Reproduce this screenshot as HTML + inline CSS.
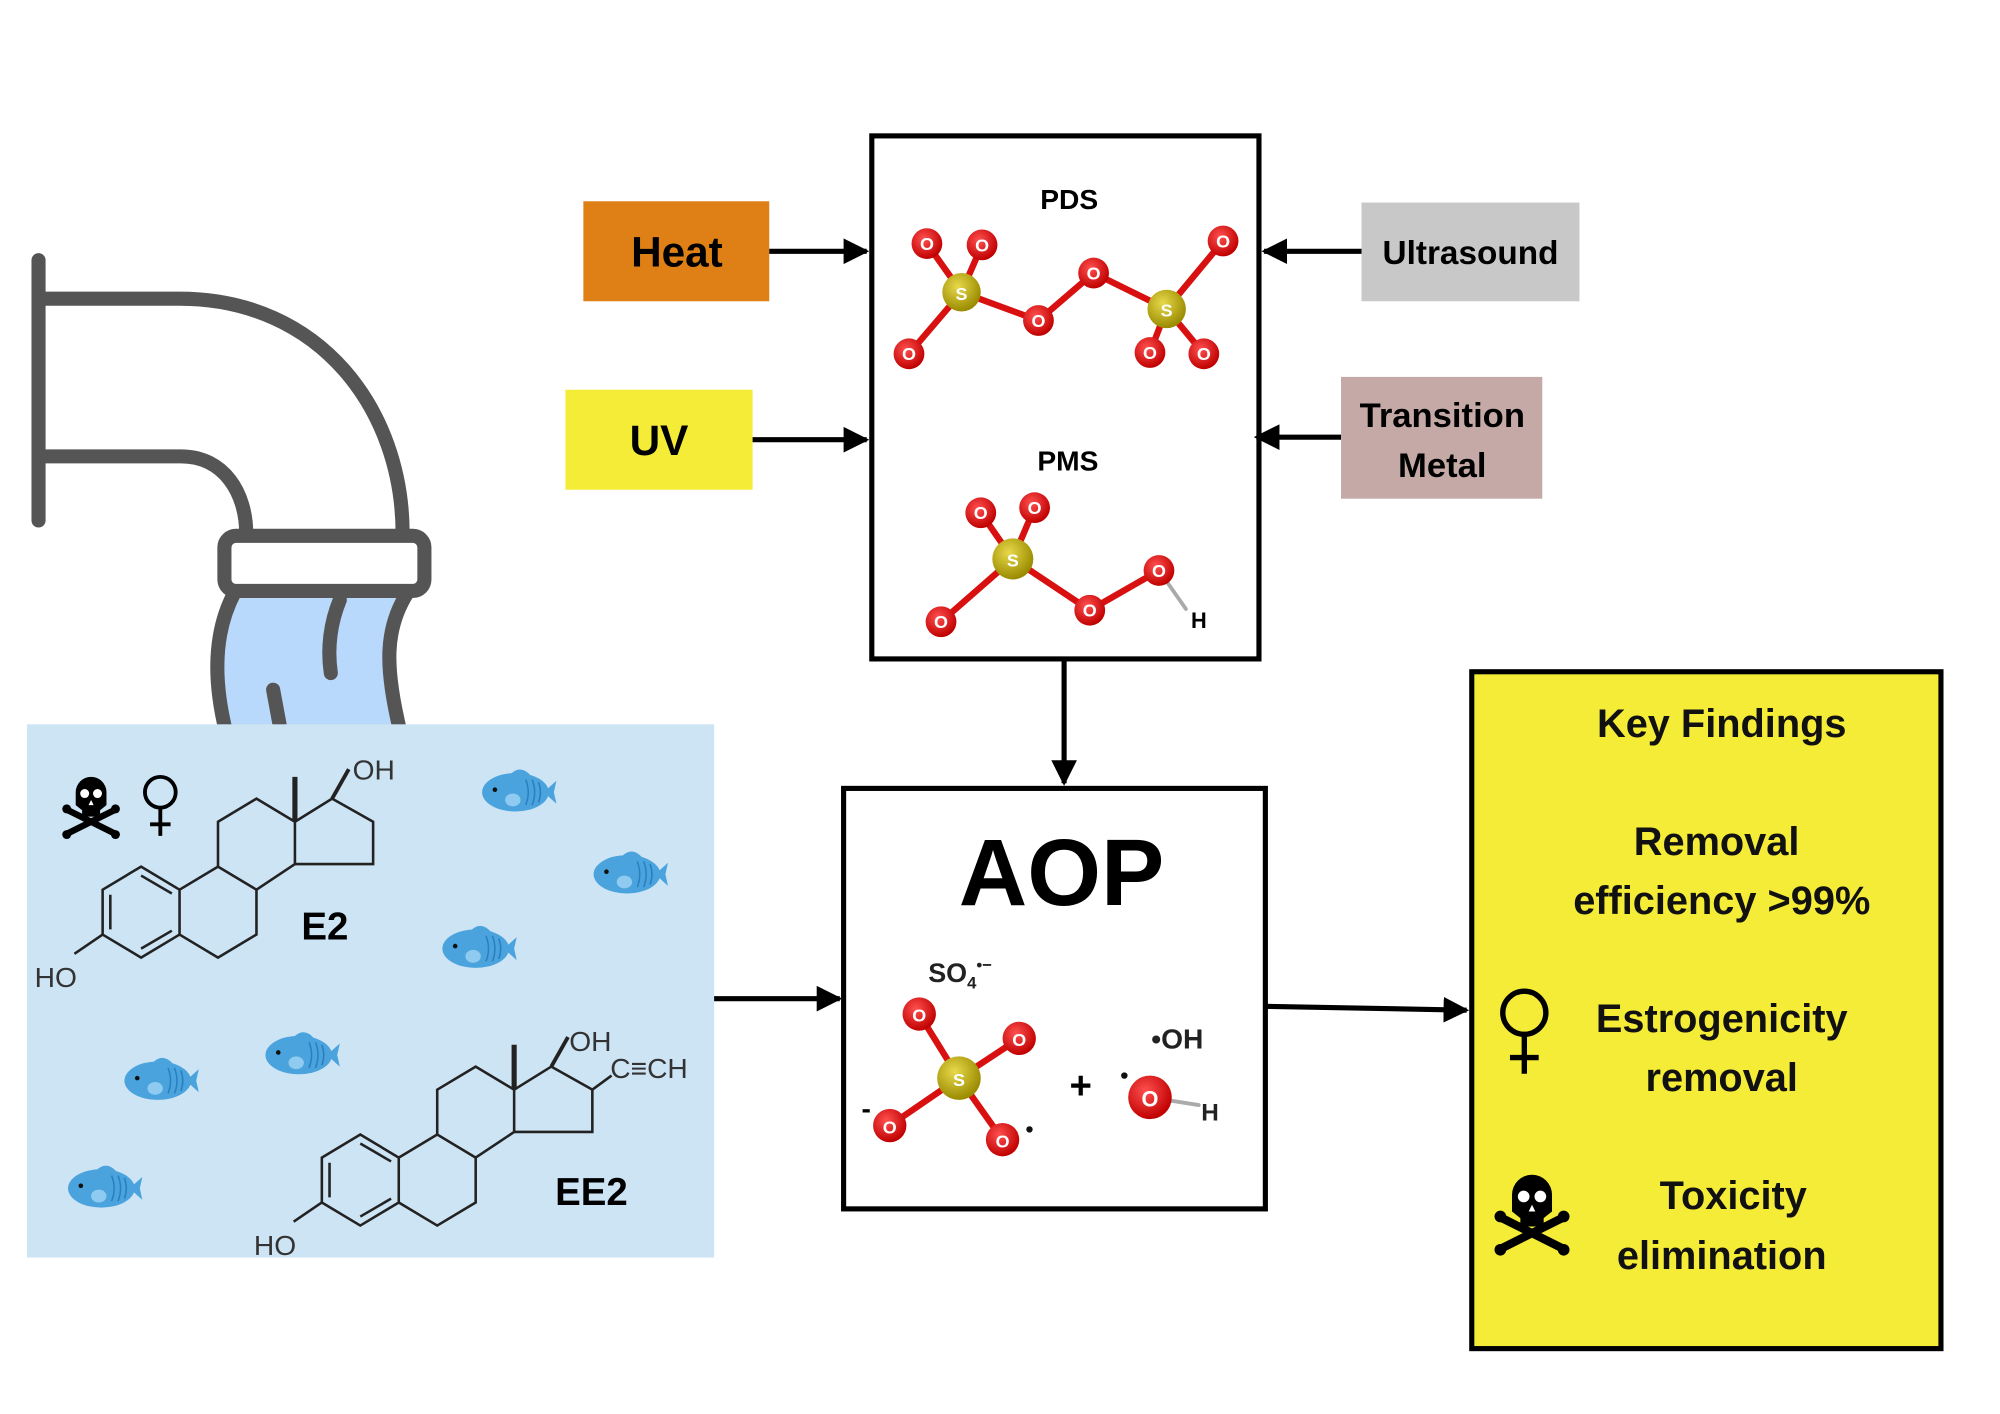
<!DOCTYPE html>
<html><head><meta charset="utf-8"><style>
html,body{margin:0;padding:0;background:#fff;width:2000px;height:1414px;overflow:hidden}
svg{display:block}
text{font-family:"Liberation Sans","DejaVu Sans",sans-serif}
</style></head><body>
<svg width="2000" height="1414" viewBox="0 0 1560 1103" xmlns="http://www.w3.org/2000/svg">
<defs>
<marker id="ah" markerWidth="5" markerHeight="5" refX="4.5" refY="2.5" orient="auto" markerUnits="strokeWidth"><path d="M0,0 L5,2.5 L0,5 Z" fill="#000"/></marker>
<radialGradient id="gO" cx="40%" cy="35%" r="65%"><stop offset="0" stop-color="#ff5050"/><stop offset="1" stop-color="#c00000"/></radialGradient>
<radialGradient id="gS" cx="40%" cy="35%" r="65%"><stop offset="0" stop-color="#e8d84a"/><stop offset="1" stop-color="#9a8a00"/></radialGradient>
<g id="fish">
<path d="M22,0 L32,-9 L30,0 L32,9 Z" fill="#4aa3dc"/>
<ellipse cx="0" cy="0" rx="26" ry="15" fill="#4aa3dc"/>
<path d="M-4,-14 Q4,-22 12,-13" fill="#4aa3dc"/>
<path d="M8,-10 Q12,0 8,10 M13,-10 Q17,0 13,10 M18,-8 Q21,0 18,8" stroke="#2a7fc0" stroke-width="1.2" fill="none"/>
<ellipse cx="-2" cy="6" rx="6" ry="5" fill="#8fcaf0"/>
<circle cx="-16" cy="-2" r="1.8" fill="#111"/>
</g>
<g id="skull">
<g stroke="#000" stroke-width="5" stroke-linecap="round"><path d="M-18,4 L18,22 M18,4 L-18,22"/></g>
<g fill="#000"><circle cx="-19" cy="3" r="3.5"/><circle cx="19" cy="3" r="3.5"/><circle cx="-19" cy="23" r="3.5"/><circle cx="19" cy="23" r="3.5"/></g>
<path d="M-12,-10 A12,12 0 1 1 12,-10 L12,0 L7,4 L7,9 L-7,9 L-7,4 L-12,0 Z" fill="#000"/>
<circle cx="-5" cy="-9" r="3.5" fill="#fff"/><circle cx="5" cy="-9" r="3.5" fill="#fff"/>
<path d="M0,-4 L-2,0 L2,0 Z" fill="#fff"/>
</g>
<g id="venus" fill="none" stroke="#000" stroke-width="3">
<circle cx="0" cy="0" r="12"/><path d="M0,12 V34 M-8,25 H8"/>
</g>
<g id="ster" fill="none" stroke="#222" stroke-width="2">
<path d="M80,694 L110,676 L140,694 L140,729 L110,747 L80,729 Z"/>
<path d="M86,698 L86,725 M110,683 L134,697 M110,740 L134,726"/>
<path d="M140,694 L170,676 L200,694 L200,729 L170,747 L140,729"/>
<path d="M170,676 L170,641 L200,623 L230,641 L230,674 L200,694"/>
<path d="M230,641 L259,623 L291,641 L291,674 L230,674"/>
<path d="M230,641 L230,606" stroke-width="4"/>
<path d="M80,729 L58,744"/>
<text x="27" y="770" font-family="Liberation Serif,serif" font-size="22" fill="#333" stroke="none">HO</text>
</g>
</defs>

<!-- pipe -->
<g fill="none" stroke="#555" stroke-width="11" stroke-linecap="round">
<path d="M30,203 V406"/>
<path d="M30,233 H140 C250,233 314,320 314,416"/>
<path d="M30,356 H141 C175,356 192,385 192,416"/>
</g>
<path d="M183,462 C168,490 165,525 176,570 L312,570 C300,525 300,490 318,462 Z" fill="#b8d9fb"/>
<g fill="none" stroke="#555" stroke-width="11" stroke-linecap="round">
<path d="M183,462 C168,490 165,525 176,570"/>
<path d="M318,462 C300,490 300,520 312,570"/>
<path d="M265,468 C258,485 255,505 258,525"/>
<path d="M213,538 L218,565"/>
</g>
<rect x="175" y="418" width="156" height="43" rx="9" fill="#fff" stroke="#555" stroke-width="11"/>

<!-- blue panel -->
<rect x="21" y="565" width="536" height="416" fill="#cde4f5"/>
<use href="#ster"/>
<text x="275" y="608" font-family="Liberation Serif,serif" font-size="22" fill="#333">OH</text>
<path d="M259,623 L272,600" stroke="#222" stroke-width="3"/>
<text x="235" y="733" font-size="30" font-weight="bold">E2</text>
<g transform="translate(171,209)"><use href="#ster"/>
<path d="M259,623 L272,600" stroke="#222" stroke-width="3"/>
<path d="M291,641 L306,630" stroke="#222" stroke-width="2"/>
<text x="273" y="611" font-family="Liberation Serif,serif" font-size="22" fill="#333">OH</text>
<text x="305" y="632" font-family="Liberation Serif,serif" font-size="22" fill="#333">C≡CH</text>
</g>
<text x="433" y="940" font-size="30" font-weight="bold">EE2</text>
<use href="#skull" x="71" y="628"/>
<use href="#venus" x="125" y="618"/>
<use href="#fish" x="402" y="618"/>
<use href="#fish" x="489" y="682"/>
<use href="#fish" x="371" y="740"/>
<use href="#fish" x="233" y="823"/>
<use href="#fish" x="123" y="843"/>
<use href="#fish" x="79" y="927"/>

<!-- left boxes -->
<rect x="455" y="157" width="145" height="78" fill="#de8015"/>
<text x="528" y="208" font-size="33" font-weight="bold" text-anchor="middle">Heat</text>
<rect x="441" y="304" width="146" height="78" fill="#f5ec38"/>
<text x="514" y="355" font-size="33" font-weight="bold" text-anchor="middle">UV</text>
<!-- right boxes -->
<rect x="1062" y="158" width="170" height="77" fill="#c8c8c8"/>
<text x="1147" y="206" font-size="26" font-weight="bold" text-anchor="middle">Ultrasound</text>
<rect x="1046" y="294" width="157" height="95" fill="#c4a9a6"/>
<text x="1125" y="333" font-size="27" font-weight="bold" text-anchor="middle">Transition</text>
<text x="1125" y="372" font-size="27" font-weight="bold" text-anchor="middle">Metal</text>

<!-- arrows -->
<g stroke="#000" stroke-width="4" fill="none" marker-end="url(#ah)">
<path d="M600,196 H676"/>
<path d="M587,343 H676"/>
<path d="M1062,196 H986"/>
<path d="M1046,341 H980"/>
<path d="M830,515 V611"/>
<path d="M557,779 H655"/>
<path d="M987,785 L1144,788"/>
</g>

<!-- PDS/PMS box -->
<rect x="680" y="106" width="302" height="408" fill="none" stroke="#000" stroke-width="4"/>
<text x="834" y="163" font-size="22" font-weight="bold" text-anchor="middle">PDS</text>
<text x="833" y="367" font-size="22" font-weight="bold" text-anchor="middle">PMS</text>
<g stroke-width="5" stroke-linecap="round" fill="none">
<path d="M723,190 L750,228 M766,191 L750,228 M750,228 L709,276 M750,228 L810,250 L853,213 L910,241 M910,241 L954,188 M910,241 L897,275 M910,241 L939,276" stroke="#d81010"/>
<path d="M765,400 L790,436 M807,396 L790,436 M790,436 L734,485 M790,436 L850,476 L904,445" stroke="#d81010"/>
<path d="M904,445 L925,475" stroke="#aaa" stroke-width="3"/>
<path d="M748,841 L717,791 M748,841 L795,810 M748,841 L694,878 M748,841 L782,889" stroke="#d81010"/>
<path d="M897,856 L935,862" stroke="#aaa" stroke-width="3"/>
</g>
<g fill="url(#gO)">
<circle cx="723" cy="190" r="12"/><circle cx="766" cy="191" r="12"/><circle cx="709" cy="276" r="12"/>
<circle cx="810" cy="250" r="12"/><circle cx="853" cy="213" r="12"/><circle cx="954" cy="188" r="12"/>
<circle cx="897" cy="275" r="12"/><circle cx="939" cy="276" r="12"/>
<circle cx="765" cy="400" r="12"/><circle cx="807" cy="396" r="12"/><circle cx="734" cy="485" r="12"/>
<circle cx="850" cy="476" r="12"/><circle cx="904" cy="445" r="12"/>
<circle cx="717" cy="791" r="13"/><circle cx="795" cy="810" r="13"/><circle cx="694" cy="878" r="13"/><circle cx="782" cy="889" r="13"/>
<circle cx="897" cy="856" r="17"/>
</g>
<g fill="url(#gS)">
<circle cx="750" cy="228" r="15"/><circle cx="910" cy="241" r="15"/><circle cx="790" cy="436" r="16"/><circle cx="748" cy="841" r="17"/>
</g>
<g font-size="14" font-weight="bold" fill="#fff" text-anchor="middle">
<text x="723" y="195">O</text><text x="766" y="196">O</text><text x="709" y="281">O</text><text x="810" y="255">O</text><text x="853" y="218">O</text><text x="954" y="193">O</text><text x="897" y="280">O</text><text x="939" y="281">O</text>
<text x="765" y="405">O</text><text x="807" y="401">O</text><text x="734" y="490">O</text><text x="850" y="481">O</text><text x="904" y="450">O</text>
<text x="750" y="234">S</text><text x="910" y="247">S</text><text x="790" y="442">S</text>
<text x="717" y="797">O</text><text x="795" y="816">O</text><text x="694" y="884">O</text><text x="782" y="895">O</text><text x="748" y="847">S</text>
<text x="897" y="863" font-size="17">O</text>
</g>
<text x="929" y="490" font-size="17" font-weight="bold">H</text>

<!-- AOP box -->
<rect x="658" y="615" width="329" height="328" fill="none" stroke="#000" stroke-width="4"/>
<text x="828" y="706" font-size="74" font-weight="bold" text-anchor="middle">AOP</text>
<text x="724" y="766" font-size="21" font-weight="bold" fill="#222">SO<tspan font-size="13" dy="5">4</tspan><tspan font-size="13" dy="-14">•−</tspan></text>
<text x="672" y="872" font-size="22" font-weight="bold">-</text>
<circle cx="803" cy="881" r="2.5" fill="#111"/>
<text x="843" y="857" font-size="30" font-weight="bold" text-anchor="middle">+</text>
<circle cx="877" cy="839" r="2.5" fill="#111"/>
<text x="898" y="818" font-size="22" font-weight="bold" fill="#222">•OH</text>
<text x="937" y="874" font-size="19" font-weight="bold" fill="#222">H</text>

<!-- Key findings -->
<rect x="1148" y="524" width="366" height="528" fill="#f5ec38" stroke="#000" stroke-width="4"/>
<g font-size="31" font-weight="bold" text-anchor="middle" fill="#111">
<text x="1343" y="575">Key Findings</text>
<text x="1339" y="667">Removal</text>
<text x="1343" y="713">efficiency &gt;99%</text>
<text x="1343" y="805">Estrogenicity</text>
<text x="1343" y="851">removal</text>
<text x="1352" y="943">Toxicity</text>
<text x="1343" y="990">elimination</text>
</g>
<g transform="translate(1189,790) scale(1.4)"><use href="#venus"/></g>
<g transform="translate(1195,945) scale(1.3)"><use href="#skull"/></g>
</svg>
</body></html>
